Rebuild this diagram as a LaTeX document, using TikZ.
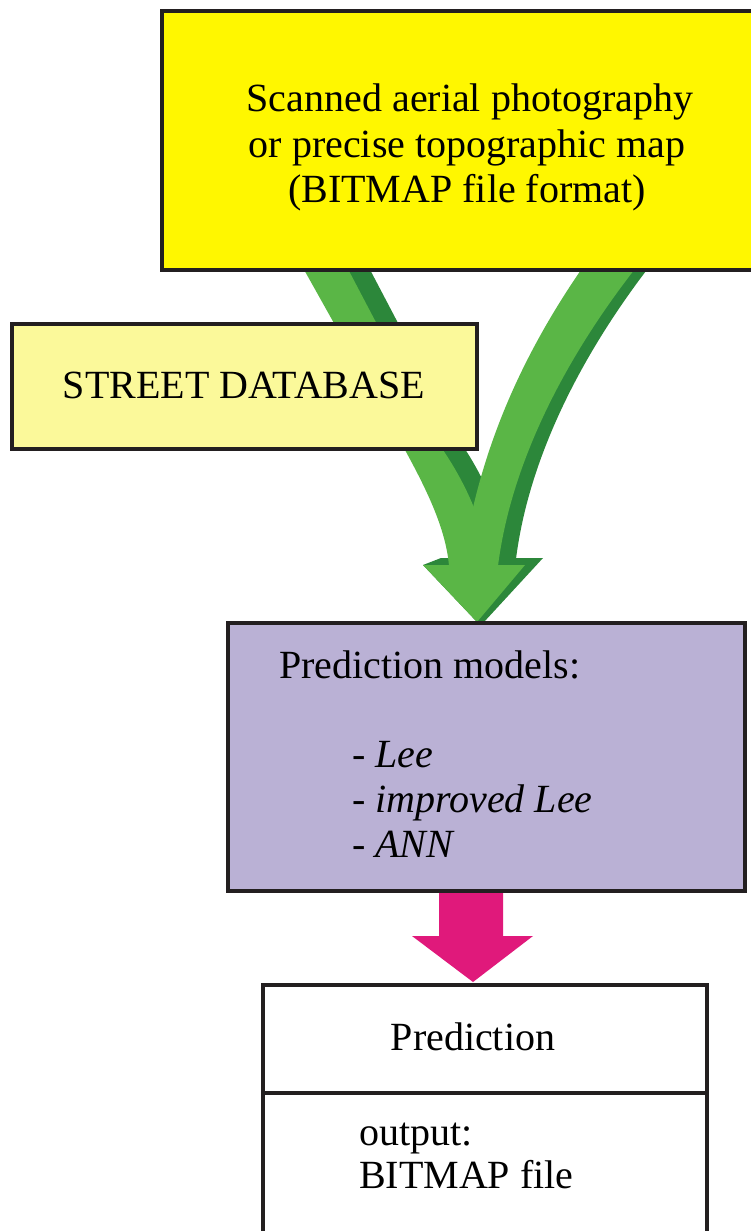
\documentclass[tikz,border=0pt]{standalone}
\usepackage{fontspec}
\setmainfont{Liberation Serif}
\definecolor{lineblack}{HTML}{231F20}
\definecolor{srcyellow}{HTML}{FFF700}
\definecolor{dbyellow}{HTML}{FBF99A}
\definecolor{predpurple}{HTML}{BAB1D5}
\definecolor{arrowmagenta}{HTML}{E0197B}
\definecolor{greenlight}{HTML}{5AB646}
\definecolor{greendark}{HTML}{2C873A}
\begin{document}
\begin{tikzpicture}[x=1pt,y=-1pt,line join=miter,
  box/.style={draw=lineblack,line width=4pt,inner sep=0pt,outer sep=0pt,anchor=north west},
  txt/.style={font=\fontsize{40}{46}\selectfont,inner sep=0pt,outer sep=0pt}]
\useasboundingbox (0,0) rectangle (751,1231);
\clip (0,0) rectangle (751,1231);

% ---- green merged arrow: shadow (dark) first ----
\begin{scope}[shift={(18,-7)}]
  \fill[greendark] (293,250) -- (405,450) .. controls (428,492) and (446,530) .. (449,566)
     -- (490,566) .. controls (485,530) and (470,490) .. (443,450) -- (338,250) -- cycle;
  \fill[greendark] (595,250) .. controls (530,340) and (480,440) .. (462,566)
     -- (498,566) .. controls (510,470) and (560,360) .. (650,250) -- cycle;
\end{scope}
\fill[greendark] (423,565) -- (441,558) -- (543,558) -- (484,622) -- (477,622) -- cycle;
% light faces
\fill[greenlight] (293,250) -- (405,450) .. controls (428,492) and (446,530) .. (449,566)
   -- (490,566) .. controls (485,530) and (470,490) .. (443,450) -- (338,250) -- cycle;
\fill[greenlight] (595,250) .. controls (530,340) and (480,440) .. (462,566)
   -- (498,566) .. controls (510,470) and (560,360) .. (650,250) -- cycle;
\fill[greenlight] (423,565) -- (525,565) -- (477,622) -- cycle;

% ---- boxes ----
\node[box,fill=srcyellow,minimum width=616pt,minimum height=259pt] (src) at (162,11) {};
\node[txt,anchor=base] (src1) at (470,111) {Scanned aerial photography};
\node[txt,anchor=base] (src2) at (467,157) {or precise topographic map};
\node[txt,anchor=base] (src3) at (467,202) {(BITMAP file format)};

\node[box,fill=dbyellow,minimum width=465pt,minimum height=125pt] (db) at (12,324) {};
\node[txt,anchor=base] (dbt) at (244,398) {STREET DATABASE};

\node[box,fill=predpurple,minimum width=517pt,minimum height=268pt] (pm) at (228,623) {};
\node[txt,anchor=base west] (pm0) at (279,678) {Prediction models:};
\node[txt,anchor=base west] (pm1) at (352,767) {- \textit{Lee}};
\node[txt,anchor=base west] (pm2) at (352,812) {- \textit{improved Lee}};
\node[txt,anchor=base west] (pm3) at (352,857) {- \textit{ANN}};

% ---- magenta arrow ----
\coordinate (mtip) at (473,982);
\fill[arrowmagenta] (439,893) -- (503,893) -- (503,936) -- (533,936) -- (mtip) -- (412,936) -- (439,936) -- cycle;

% ---- prediction output box ----
\node[box,fill=white,minimum width=444pt,minimum height=108pt] (pr) at (263,985) {};
\node[box,fill=white,minimum width=444pt,minimum height=200pt] (out) at (263,1093) {};
\node[txt,anchor=base] (prt) at (473,1050) {Prediction};
\node[txt,anchor=base west] (out1) at (359,1145) {output:};
\node[txt,anchor=base west] (out2) at (359,1188) {BITMAP file};
\end{tikzpicture}
\end{document}
